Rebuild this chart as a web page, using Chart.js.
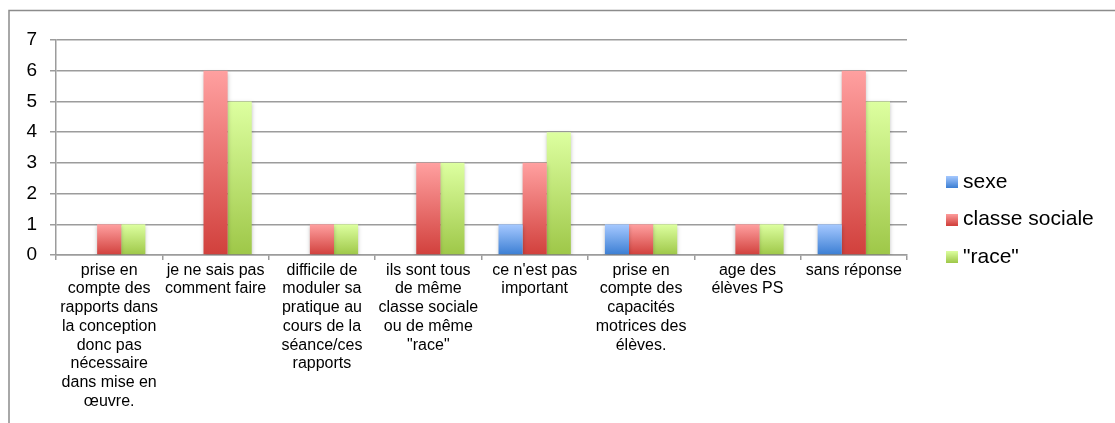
<!DOCTYPE html>
<html>
<head>
<meta charset="utf-8">
<script src="https://cdn.jsdelivr.net/npm/chart.js@4/dist/chart.umd.min.js"></script>
<style>
html,body{margin:0;padding:0;background:#fff;}
#wrap{width:1115px;height:423px;position:relative;}
</style>
</head>
<body>
<div id="wrap"><canvas id="c" width="1115" height="423"></canvas></div>
<script>
const categories = [
  ["prise en","compte des","rapports dans","la conception","donc pas","nécessaire","dans mise en","œuvre."],
  ["je ne sais pas","comment faire"],
  ["difficile de","moduler sa","pratique au","cours de la","séance/ces","rapports"],
  ["ils sont tous","de même","classe sociale","ou de même","\"race\""],
  ["ce n'est pas","important"],
  ["prise en","compte des","capacités","motrices des","élèves."],
  ["age des","élèves PS"],
  ["sans réponse"]
];
const seriesNames = ["sexe", "classe sociale", "\"race\""];
const sexe = [0, 0, 0, 0, 1, 1, 0, 1];
const classeSociale = [1, 6, 1, 3, 3, 1, 1, 6];
const race = [1, 5, 1, 3, 4, 1, 1, 5];
const yTicks = [0, 1, 2, 3, 4, 5, 6, 7];

const palette = [
  {top: '#a6c9ff', bottom: '#3b7ed3'},
  {top: '#ffa0a0', bottom: '#d1403c'},
  {top: '#ddffa0', bottom: '#9ec748'}
];

function gradFill(p) {
  return function(ctx) {
    const chart = ctx.chart;
    if (!chart.chartArea || ctx.type !== 'data' || !chart.scales.y) return p.bottom;
    const y0 = chart.scales.y.getPixelForValue(0);
    const y1 = chart.scales.y.getPixelForValue(ctx.raw || 0);
    if (Math.abs(y0 - y1) < 0.5) return p.bottom;
    const g = chart.ctx.createLinearGradient(0, y1, 0, y0);
    g.addColorStop(0, p.top);
    g.addColorStop(1, p.bottom);
    return g;
  };
}
function legendImg(p) {
  const c = document.createElement('canvas');
  c.width = 12; c.height = 12;
  const x = c.getContext('2d');
  const g = x.createLinearGradient(0, 0, 0, 12);
  g.addColorStop(0, p.top); g.addColorStop(1, p.bottom);
  x.fillStyle = g; x.fillRect(0, 0, 12, 12);
  return c;
}

const gridColor = '#9c9c9c';
const FONT = "'Liberation Sans', Arial, sans-serif";

const framePlugin = {
  id: 'frame',
  beforeDraw(chart) {
    const ctx = chart.ctx;
    ctx.save();
    ctx.strokeStyle = '#8c8c8c';
    ctx.lineWidth = 1.5;
    ctx.strokeRect(9, 10.5, 1120, 430);
    ctx.restore();
  },
  beforeUpdate(chart) {
    const lg = chart.legend;
    if (lg && !lg._wrappedFit) {
      const orig = lg.fit;
      lg.fit = function() { orig.call(this); this.width = 208; };
      lg._wrappedFit = true;
    }
  },
  afterLayout(chart) {
    const lg = chart.legend;
    if (lg) {
      lg.left += 27; lg.right += 27;
      lg.top -= 12; lg.bottom -= 12;
    }
  },
  beforeDatasetsDraw(chart) {
    const ctx = chart.ctx;
    ctx.save();
    ctx.shadowColor = 'rgba(0,0,0,0.25)';
    ctx.shadowBlur = 4;
    ctx.shadowOffsetX = 0;
    ctx.shadowOffsetY = 2;
  },
  afterDatasetsDraw(chart) {
    chart.ctx.restore();
  }
};

const seriesData = [sexe, classeSociale, race];
const datasets = seriesNames.map((name, i) => ({
  label: name,
  data: seriesData[i],
  backgroundColor: gradFill(palette[i]),
  borderWidth: 0,
  pointStyle: legendImg(palette[i]),
  categoryPercentage: 0.68,
  barPercentage: 1.0
}));

new Chart(document.getElementById('c'), {
  type: 'bar',
  data: { labels: categories, datasets: datasets },
  plugins: [framePlugin],
  options: {
    responsive: false,
    animation: false,
    devicePixelRatio: 1,
    layout: { padding: { top: 40, left: 0, right: 0, bottom: 0 } },
    plugins: {
      tooltip: { enabled: false },
      legend: {
        position: 'right',
        labels: {
          usePointStyle: true,
          pointStyleWidth: 2,
          padding: 16.5,
          color: '#000',
          font: { family: FONT, size: 21 }
        }
      }
    },
    scales: {
      x: {
        afterFit(scale) { scale.height = 168; },
        grid: {
          offset: true,
          drawOnChartArea: false,
          drawTicks: true,
          tickLength: 5,
          color: gridColor,
          lineWidth: 1.5
        },
        border: { display: true, color: gridColor, width: 1.5 },
        ticks: {
          autoSkip: false,
          maxRotation: 0,
          minRotation: 0,
          padding: 1,
          color: '#000',
          font: { family: FONT, size: 16, lineHeight: 1.17 }
        }
      },
      y: {
        min: 0,
        max: 7,
        afterFit(scale) { scale.width = 56; },
        afterBuildTicks(scale) { scale.ticks = yTicks.map(v => ({ value: v })); },
        grid: {
          color: gridColor,
          lineWidth: 1.5,
          drawTicks: true,
          tickLength: 6
        },
        border: { display: true, color: gridColor, width: 1.5 },
        ticks: {
          padding: 13,
          color: '#000',
          font: { family: FONT, size: 19 }
        }
      }
    }
  }
});
</script>
</body>
</html>
